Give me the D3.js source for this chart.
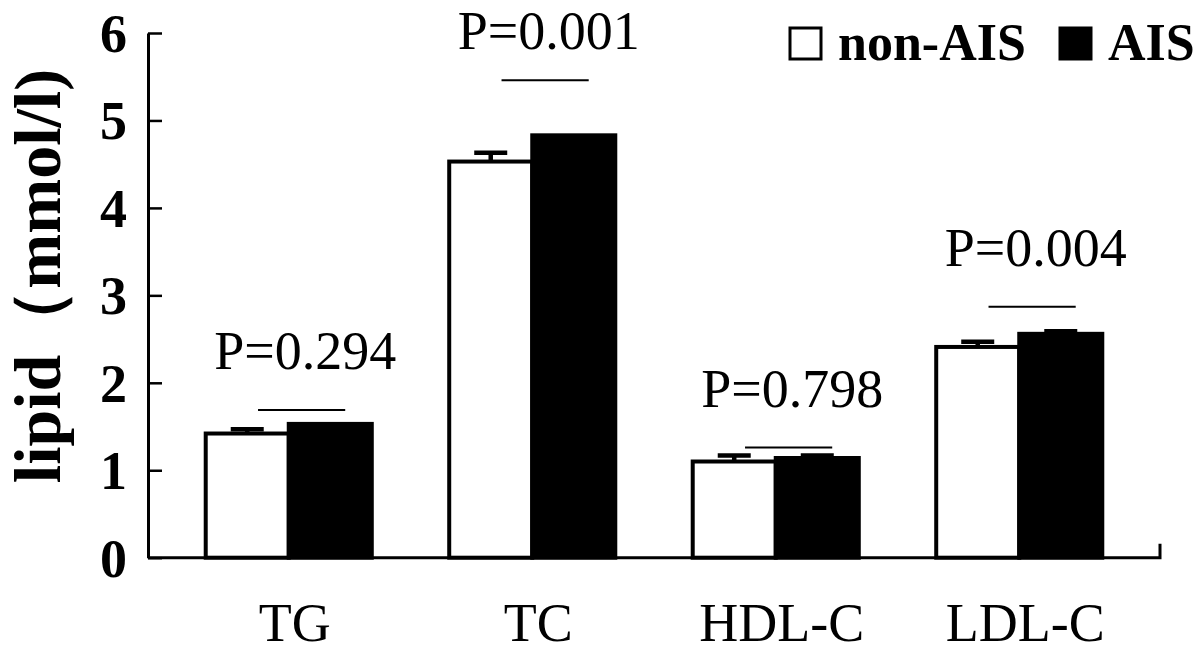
<!DOCTYPE html>
<html>
<head>
<meta charset="utf-8">
<script src="https://cdn.jsdelivr.net/npm/d3@7"></script>
<style>
  body { margin: 0; background: #fff; }
  svg { display: block; }
  text { font-family: "Liberation Serif", "Times New Roman", serif; fill: #000; }
</style>
</head>
<body>
<svg id="chart" width="1200" height="654"></svg>
<script>
// values (mmol/l)
var categories = ["TG", "TC", "HDL-C", "LDL-C"];
var groups = ["non-AIS", "AIS"];
var nonAIS = [1.42, 4.53, 1.10, 2.41];
var AIS = [1.53, 4.83, 1.14, 2.56];
var nonAISErr = [0.05, 0.10, 0.07, 0.06];
var AISErr = [0, 0, 0.03, 0.03];
var pValues = ["P=0.294", "P=0.001", "P=0.798", "P=0.004"];
var sigLevel = [1.69, 5.46, 1.26, 2.87];
var yTicks = [0, 1, 2, 3, 4, 5, 6];

var svg = d3.select("#chart");

var axisLeft = 148, axisRight = 1160;

var y = d3.scaleLinear().domain([0, 6]).range([557.7, 33]);

var x0 = d3.scaleBand()
    .domain(categories)
    .range([167, 1141])
    .paddingInner(0.318)
    .paddingOuter(0.159);

var x1 = d3.scaleBand()
    .domain(groups)
    .range([0, x0.bandwidth()]);

var rows = categories.map(function (c, i) {
    return {
        cat: c,
        p: pValues[i],
        sig: sigLevel[i],
        bars: [
            {g: "non-AIS", v: nonAIS[i], e: nonAISErr[i]},
            {g: "AIS", v: AIS[i], e: AISErr[i]}
        ]
    };
});

// bars
var grp = svg.selectAll(".grp")
    .data(rows)
    .enter().append("g")
    .attr("class", "grp")
    .attr("transform", function (d) { return "translate(" + x0(d.cat) + ",0)"; });

grp.selectAll("rect")
    .data(function (d) { return d.bars; })
    .enter().append("rect")
    .attr("x", function (d) { return x1(d.g); })
    .attr("y", function (d) { return y(d.v); })
    .attr("width", x1.bandwidth())
    .attr("height", function (d) { return y(0) - y(d.v); })
    .attr("fill", function (d) { return d.g == "AIS" ? "#000" : "#fff"; })
    .attr("stroke", "#000")
    .attr("stroke-width", 4);

// error bars (only upper half shows)
var capW = 33;
grp.selectAll(".err")
    .data(function (d) { return d.bars.filter(function (b) { return b.e > 0; }); })
    .enter().append("path")
    .attr("class", "err")
    .attr("d", function (d) {
        var cx = x1(d.g) + x1.bandwidth() / 2;
        return "M" + cx + "," + y(d.v) + "V" + y(d.v + d.e) +
            "M" + (cx - capW / 2) + "," + y(d.v + d.e) + "H" + (cx + capW / 2);
    })
    .attr("stroke", "#000")
    .attr("stroke-width", 4.5)
    .attr("fill", "none");

// significance lines
var bw = x0.bandwidth();
grp.append("line")
    .attr("x1", bw * 0.315)
    .attr("x2", bw * 0.84)
    .attr("y1", function (d) { return y(d.sig); })
    .attr("y2", function (d) { return y(d.sig); })
    .attr("stroke", "#000")
    .attr("stroke-width", 2);

grp.append("text")
    .attr("x", bw * 0.6)
    .attr("y", function (d) { return Math.max(y(d.sig) - 41, 49); })
    .attr("text-anchor", "middle")
    .style("font-size", "54px")
    .text(function (d) { return d.p; });

// y axis
var yAxis = d3.axisLeft(y)
    .tickValues(yTicks)
    .tickSizeInner(-14)
    .tickSizeOuter(0)
    .tickPadding(21)
    .tickFormat(d3.format("d"));

var gy = svg.append("g")
    .attr("transform", "translate(" + axisLeft + ",0)")
    .call(yAxis);

gy.select(".domain").attr("stroke-width", 3);
gy.selectAll(".tick line").attr("stroke-width", 2.5);
gy.selectAll(".tick text")
    .style("font-family", "'Liberation Serif', 'Times New Roman', serif")
    .style("font-size", "54px")
    .style("font-weight", "bold")
    .attr("dy", "0.34em");

// x axis line + end tick
svg.append("path")
    .attr("d", "M" + axisLeft + "," + y(0) + "H" + axisRight + "V" + (y(0) - 14))
    .attr("stroke", "#000")
    .attr("stroke-width", 3)
    .attr("fill", "none");

svg.selectAll(".xlab")
    .data(categories)
    .enter().append("text")
    .attr("class", "xlab")
    .attr("x", function (d) { return x0(d) + bw / 2 + 6; })
    .attr("y", 641)
    .attr("text-anchor", "middle")
    .style("font-size", "54px")
    .text(function (d) { return d; });

// y title
svg.append("text")
    .attr("transform", "translate(60,276) rotate(-90)")
    .attr("text-anchor", "middle")
    .style("font-size", "66px")
    .style("font-weight", "bold")
    .text("lipid（mmol/l)");

// legend
var legend = svg.append("g").attr("class", "legend");
var legItems = [
    {g: groups[0], box: 790, tx: 838},
    {g: groups[1], box: 1060, tx: 1108}
];
legend.selectAll("rect")
    .data(legItems)
    .enter().append("rect")
    .attr("x", function (d) { return d.box; })
    .attr("y", 28)
    .attr("width", 31)
    .attr("height", 31)
    .attr("fill", function (d) { return d.g == "AIS" ? "#000" : "#fff"; })
    .attr("stroke", "#000")
    .attr("stroke-width", 3);

legend.selectAll("text")
    .data(legItems)
    .enter().append("text")
    .attr("x", function (d) { return d.tx; })
    .attr("y", 60)
    .style("font-size", "52px")
    .style("font-weight", "bold")
    .text(function (d) { return d.g; });
</script>
</body>
</html>
